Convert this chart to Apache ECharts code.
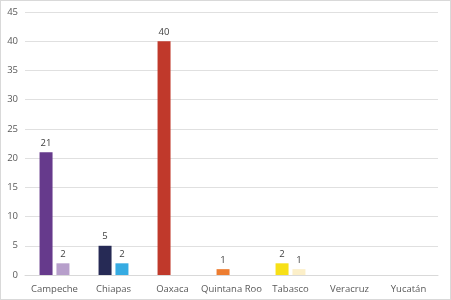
<!DOCTYPE html>
<html><head><meta charset="utf-8">
<script src="https://cdn.jsdelivr.net/npm/echarts@6/dist/echarts.min.js"></script>
<style>html,body{margin:0;padding:0;background:#fff}#c{width:449px;height:298px;border:1px solid #d9d9d9}</style>
</head><body><div id="c"></div>
<script>
const categories = ['Campeche','Chiapas','Oaxaca','Quintana Roo','Tabasco','Veracruz','Yucatán'];
const series1 = [21, 5, 40, 1, 2, null, null];
const series2 = [2, 2, null, null, 1, null, null];
const colors1 = ['#663a8c','#262a55','#c0392b','#ed7d31','#f7e017','#999999','#999999'];
const colors2 = ['#b79fcb','#36abe2','#e8a09a','#f6be98','#fcefc8','#cccccc','#cccccc'];
const yTicks = {min: 0, max: 45, interval: 5};

const chart = echarts.init(document.getElementById('c'));
const lbl = {show: true, position: 'top', color: '#404040', fontSize: 9.5, fontFamily: 'Open Sans', distance: 4};
chart.setOption({
  animation: false,
  grid: {left: 24, right: 12, top: 11, bottom: 24, containLabel: false},
  xAxis: {
    type: 'category', data: categories,
    axisLine: {lineStyle: {color: '#d9d9d9'}}, axisTick: {show: false},
    axisLabel: {interval: 0, color: '#595959', fontSize: 9.5, fontFamily: 'Open Sans', margin: 9}
  },
  yAxis: {
    type: 'value', min: yTicks.min, max: yTicks.max, interval: yTicks.interval,
    axisLine: {show: false}, axisTick: {show: false},
    splitLine: {lineStyle: {color: '#e0e0e0'}},
    axisLabel: {color: '#595959', fontSize: 9.5, fontFamily: 'Open Sans', margin: 7}
  },
  series: [
    {type: 'bar', data: series1.map((v, i) => ({value: v, itemStyle: {color: colors1[i]}})),
     barWidth: 13, barGap: '30%', label: lbl},
    {type: 'bar', data: series2.map((v, i) => ({value: v, itemStyle: {color: colors2[i]}})),
     barWidth: 13, label: lbl}
  ]
});
</script></body></html>
